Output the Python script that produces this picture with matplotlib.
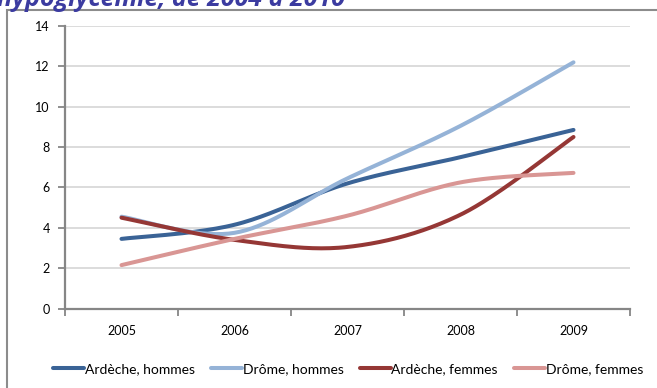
import numpy as np
import matplotlib
matplotlib.use("Agg")
import matplotlib.pyplot as plt
from matplotlib.patches import Rectangle

years = ["2005", "2006", "2007", "2008", "2009"]
ardeche_hommes = [3.45, 4.15, 6.2, 7.5, 8.85]
drome_hommes = [4.55, 3.75, 6.45, 9.05, 12.2]
ardeche_femmes = [4.5, 3.4, 3.05, 4.65, 8.5]
drome_femmes = [2.15, 3.45, 4.6, 6.25, 6.72]

series = [
    ("Ardèche, hommes", ardeche_hommes, "#3a6396"),
    ("Drôme, hommes", drome_hommes, "#95b3d7"),
    ("Ardèche, femmes", ardeche_femmes, "#953735"),
    ("Drôme, femmes", drome_femmes, "#d99694"),
]


def smooth(xs, ys, n=40):
    """Bezier smoothing through the points (spreadsheet-style smoothed line)."""
    xs = np.asarray(xs, float)
    ys = np.asarray(ys, float)
    px, py = [], []
    m = len(xs)
    for i in range(m - 1):
        x0, y0 = xs[max(i - 1, 0)], ys[max(i - 1, 0)]
        x1, y1 = xs[i], ys[i]
        x2, y2 = xs[i + 1], ys[i + 1]
        x3, y3 = xs[min(i + 2, m - 1)], ys[min(i + 2, m - 1)]
        c1x, c1y = x1 + (x2 - x0) / 6, y1 + (y2 - y0) / 6
        c2x, c2y = x2 - (x3 - x1) / 6, y2 - (y3 - y1) / 6
        t = np.linspace(0, 1, n)
        bx = (1 - t) ** 3 * x1 + 3 * (1 - t) ** 2 * t * c1x + 3 * (1 - t) * t ** 2 * c2x + t ** 3 * x2
        by = (1 - t) ** 3 * y1 + 3 * (1 - t) ** 2 * t * c1y + 3 * (1 - t) * t ** 2 * c2y + t ** 3 * y2
        px.extend(bx if i == 0 else bx[1:])
        py.extend(by if i == 0 else by[1:])
    return np.array(px), np.array(py)


plt.rcParams["font.family"] = ["Lato", "DejaVu Sans"]

W, H = 657, 388
fig = plt.figure(figsize=(W / 100, H / 100), dpi=100)

# chart frame
fig.patches.append(Rectangle((7 / W, -0.05), 1.2, 1 - 10 / H + 0.05,
                             transform=fig.transFigure, fill=False,
                             edgecolor="#8c8c8c", linewidth=1.5))

# title line (continues above the visible area)
fig.text(-3 / W, 1 - 6 / H, "hypoglycémie, de 2004 à 2010", ha="left", va="baseline",
         fontsize=18, fontweight="bold", fontstyle="italic", color="#3b3ba0",
         family=["Open Sans", "DejaVu Sans"])

ax = fig.add_axes([65 / W, 1 - 308.5 / H, (630 - 65) / W, (308.5 - 26) / H])
x = np.arange(len(years))
for label, vals, color in series:
    sx, sy = smooth(x, vals)
    ax.plot(sx, sy, color=color, linewidth=2.9, solid_capstyle="round", label=label)

ax.set_xlim(-0.5, len(years) - 0.5)
ax.set_ylim(0, 14)
ax.set_yticks(np.arange(0, 15, 2))
ax.set_xticks(x)
ax.set_xticklabels(years)
ax.set_xticks(np.arange(-0.5, len(years), 1), minor=True)
ax.tick_params(axis="x", which="major", length=0, pad=12, labelsize=9)
ax.tick_params(axis="x", which="minor", length=5, width=1.3, color="#868686")
ax.tick_params(axis="y", length=5, width=1.3, color="#868686", labelsize=9, pad=6)
ax.grid(axis="y", color="#d9d9d9", linewidth=1.3)
ax.set_axisbelow(True)
for side in ("top", "right"):
    ax.spines[side].set_visible(False)
for side in ("left", "bottom"):
    ax.spines[side].set_color("#868686")
    ax.spines[side].set_linewidth(1.6)

handles, labels = ax.get_legend_handles_labels()
fig.legend(handles, labels, loc="center", bbox_to_anchor=(0.53, 1 - 369 / H), ncol=4,
           frameon=False, fontsize=10, handlelength=2.2, handletextpad=0.05,
           columnspacing=1.2)

fig.savefig("out.png", dpi=100)
